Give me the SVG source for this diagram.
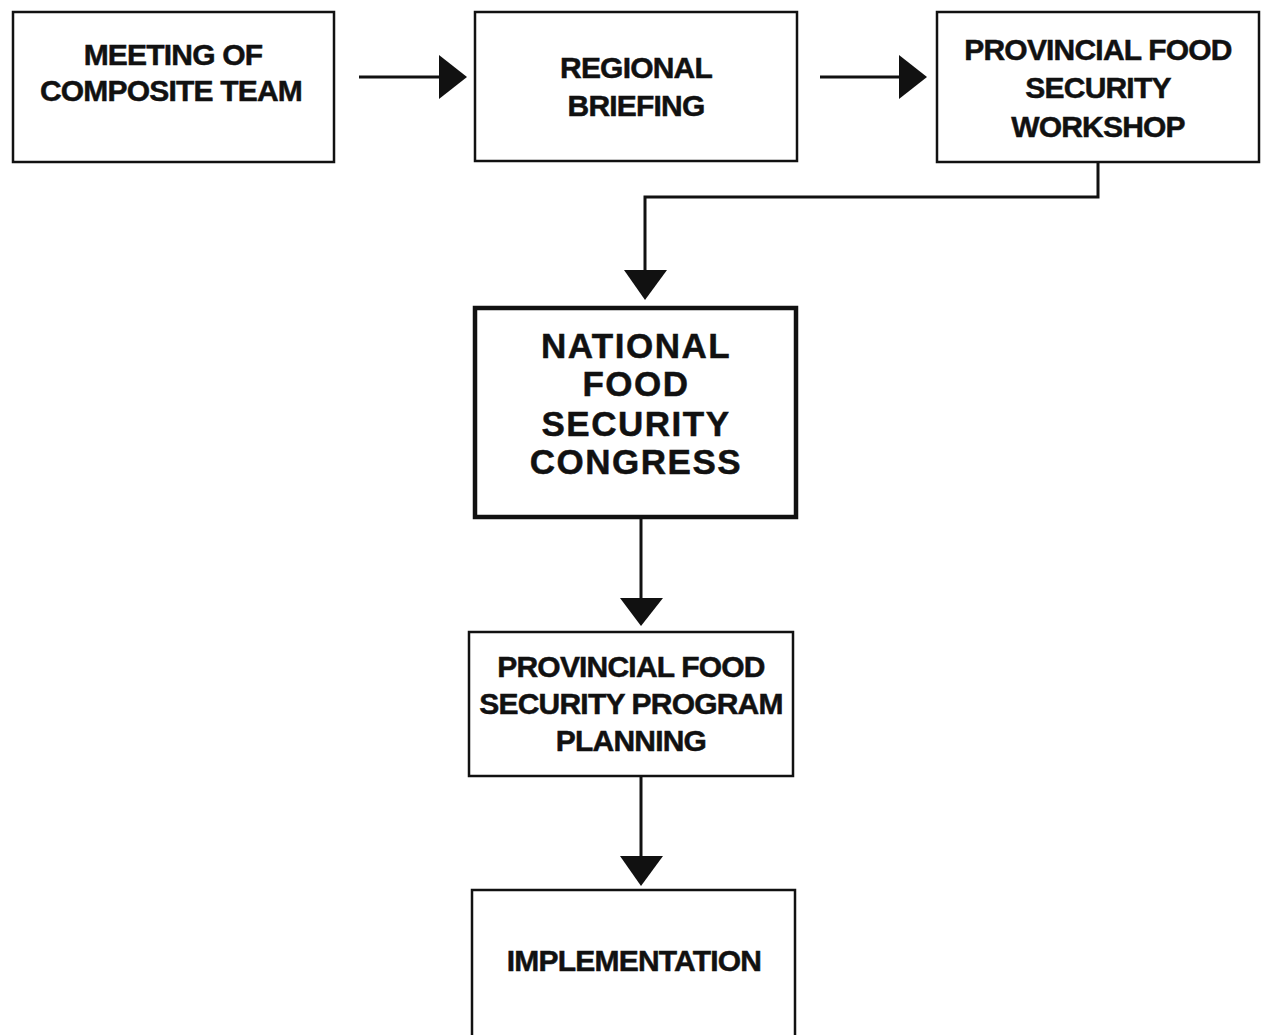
<svg xmlns="http://www.w3.org/2000/svg" width="1263" height="1035" viewBox="0 0 1263 1035">
<style>
.box{fill:#fff;stroke:#111;stroke-width:2.5}
.thick{stroke-width:4.5}
.t{font-family:"Liberation Sans",Arial,sans-serif;font-weight:bold;font-size:30px;fill:#111;stroke:#111;stroke-width:0.5;text-anchor:middle;letter-spacing:-0.8px}
.tw{font-family:"Liberation Sans",Arial,sans-serif;font-weight:bold;font-size:35px;fill:#111;stroke:#111;stroke-width:0.5;text-anchor:middle;letter-spacing:1.5px}
.ln{fill:none;stroke:#111;stroke-width:3}
.hd{fill:#111;stroke:none}
</style>
<rect width="1263" height="1035" fill="#fff"/>
<g id="connectors">
<path class="ln" d="M359 77H441"/>
<polygon class="hd" points="439,55 467,77 439,99"/>
<path class="ln" d="M820 77H901"/>
<polygon class="hd" points="899,55 927,77 899,99"/>
<path class="ln" d="M1098 162V197H645V272"/>
<polygon class="hd" points="624,270 667,270 645,300"/>
<path class="ln" d="M641 518V600"/>
<polygon class="hd" points="620,598 663,598 641,626"/>
<path class="ln" d="M641 776V858"/>
<polygon class="hd" points="620,856 663,856 641,886"/>
</g>
<g id="n1">
<rect class="box" x="13" y="12" width="321" height="150"/>
<text class="t" x="173" y="65">MEETING OF</text>
<text class="t" x="171" y="101">COMPOSITE TEAM</text>
</g>
<g id="n2">
<rect class="box" x="475" y="12" width="322" height="149"/>
<text class="t" x="636" y="78">REGIONAL</text>
<text class="t" x="636" y="116">BRIEFING</text>
</g>
<g id="n3">
<rect class="box" x="937" y="12" width="322" height="150"/>
<text class="t" x="1098" y="60">PROVINCIAL FOOD</text>
<text class="t" x="1098" y="98">SECURITY</text>
<text class="t" x="1098" y="137">WORKSHOP</text>
</g>
<g id="n4">
<rect class="box thick" x="475" y="308" width="321" height="209"/>
<text class="tw" x="636" y="358">NATIONAL</text>
<text class="tw" x="636" y="396">FOOD</text>
<text class="tw" x="636" y="436">SECURITY</text>
<text class="tw" x="636" y="474">CONGRESS</text>
</g>
<g id="n5">
<rect class="box" x="469" y="632" width="324" height="144"/>
<text class="t" x="631" y="677">PROVINCIAL FOOD</text>
<text class="t" x="631" y="714">SECURITY PROGRAM</text>
<text class="t" x="631" y="751">PLANNING</text>
</g>
<g id="n6">
<rect class="box" x="472" y="890" width="323" height="160"/>
<text class="t" x="634" y="971">IMPLEMENTATION</text>
</g>
</svg>
